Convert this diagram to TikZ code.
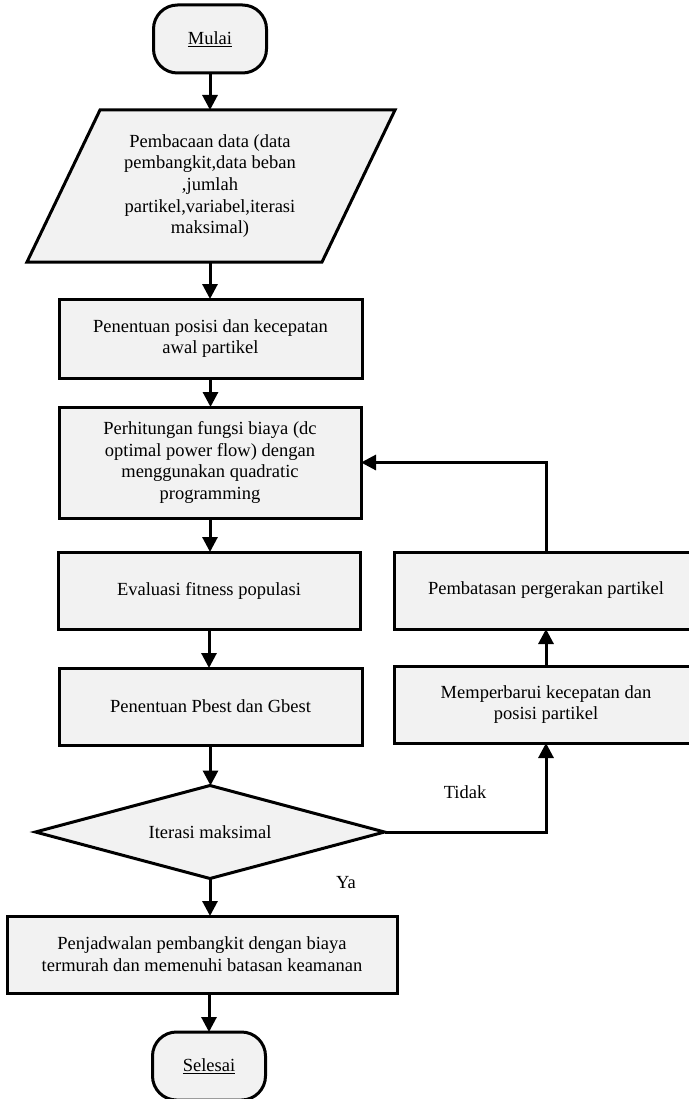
\documentclass[tikz,border=0pt]{standalone}
\usepackage{fontspec}
\setmainfont{Liberation Serif}
\usetikzlibrary{arrows.meta,shapes.geometric}
\definecolor{boxgray}{RGB}{242,242,242}
\newcommand\fsz{\fontsize{18.5pt}{21.7pt}\selectfont}
\begin{document}
\begin{tikzpicture}[x=1pt,y=-1pt,
  outline/.style={draw=black, line width=3pt, fill=boxgray, line join=miter},
  procbox/.style={outline, align=center, inner sep=0pt, outer sep=0pt, font=\fsz},
  term/.style={outline, rounded corners=24pt, align=center, inner sep=0pt, outer sep=0pt, font=\fsz, minimum width=113pt, minimum height=68pt},
  decbox/.style={outline, diamond, aspect=3.75, inner sep=0pt, outer sep=0pt, font=\fsz, minimum width=349pt, minimum height=93pt},
  arr/.style={draw=black, line width=3pt, -{Triangle[length=15pt,width=15pt]}},
  lbl/.style={font=\fsz, inner sep=0pt}
]
\useasboundingbox (0,0) rectangle (688,1099);

% start
\node[term] (start) at (210,39) {\underline{Mulai}};

% input parallelogram
\draw[outline] (100,110) -- (395,110) -- (322,262) -- (27,262) -- cycle;
\node[align=center, font=\fsz, inner sep=0pt, outer sep=0pt, minimum height=152pt] (read) at (210,186)
  {Pembacaan data (data\\pembangkit,data beban\\,jumlah\\partikel,variabel,iterasi\\maksimal)};

\node[procbox, minimum width=303pt, minimum height=79pt] (pos) at (210.5,338.5)
  {Penentuan posisi dan kecepatan\\awal partikel};
\node[procbox, minimum width=302pt, minimum height=111pt] (cost) at (210,462.5)
  {Perhitungan fungsi biaya (dc\\optimal power flow) dengan\\menggunakan quadratic\\programming};
\node[procbox, minimum width=302pt, minimum height=77pt] (eval) at (209,590.5)
  {Evaluasi fitness populasi};
\node[procbox, minimum width=303pt, minimum height=77pt] (best) at (210.5,706.5)
  {Penentuan Pbest dan Gbest};
\node[decbox] (dec) at (210,832) {Iterasi maksimal};
\node[procbox, minimum width=390pt, minimum height=77pt] (sched) at (202,954.5)
  {Penjadwalan pembangkit dengan biaya\\termurah dan memenuhi batasan keamanan};
\node[term] (stop) at (209,1066) {\underline{Selesai}};

\node[procbox, minimum width=304pt, minimum height=77pt] (lim) at (546,590.5)
  {Pembatasan pergerakan partikel};
\node[procbox, minimum width=304pt, minimum height=77pt] (upd) at (546,704.5)
  {Memperbarui kecepatan dan\\posisi partikel};

% connectors
\draw[arr] (start.south) -- (start.south |- read.north);
\draw[arr] (read.south) -- (read.south |- pos.north);
\draw[arr] (pos.south) -- (pos.south |- cost.north);
\draw[arr] (cost.south) -- (cost.south |- eval.north);
\draw[arr] (eval.south) -- (eval.south |- best.north);
\draw[arr] (best.south) -- (best.south |- dec.north);
\draw[arr] (dec.south) -- (dec.south |- sched.north);
\draw[arr] (stop.north |- sched.south) -- (stop.north);
\draw[arr] (dec.east) -- (upd.south |- dec.east) -- (upd.south);
\draw[arr] (upd.north) -- (lim.south);
\draw[arr] (lim.north) -- (lim.north |- cost.east) -- (cost.east);

% labels
\node[lbl] (tidak) at (465,792) {Tidak};
\node[lbl] (ya) at (346,883) {Ya};
\end{tikzpicture}
\end{document}
